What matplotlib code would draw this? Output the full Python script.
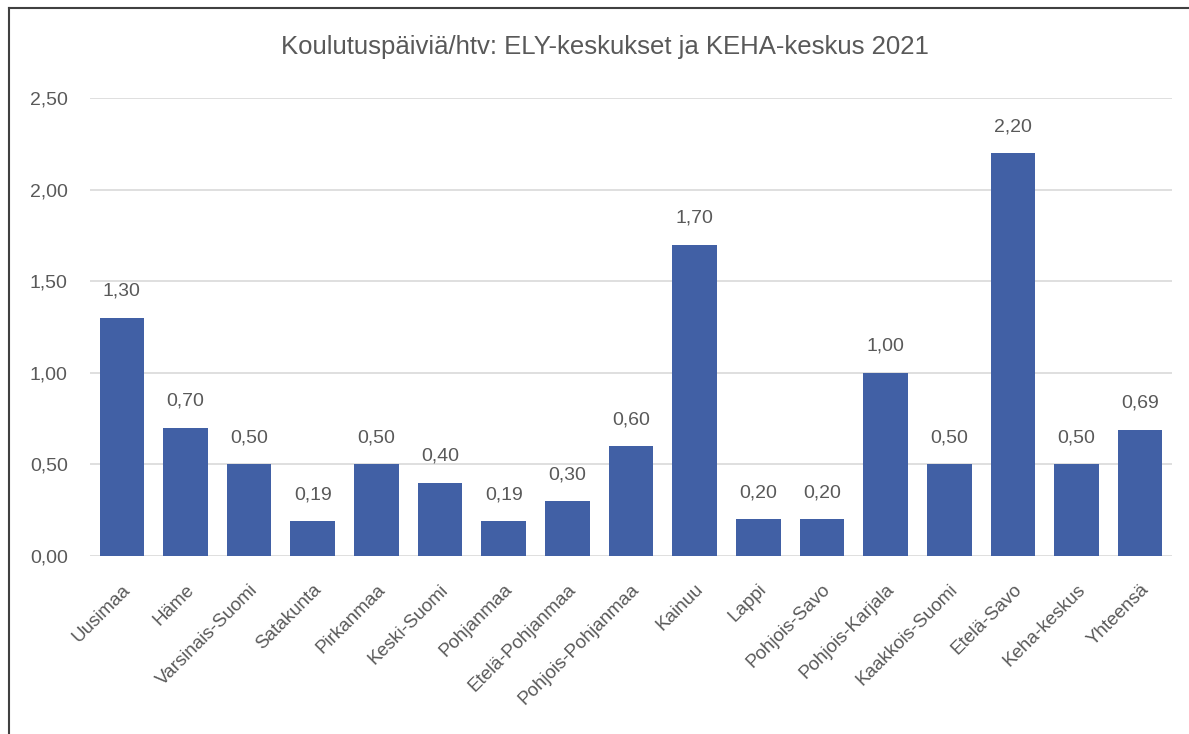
import matplotlib.pyplot as plt
from matplotlib.lines import Line2D

# data
categories = ["Uusimaa", "Häme", "Varsinais-Suomi", "Satakunta", "Pirkanmaa",
              "Keski-Suomi", "Pohjanmaa", "Etelä-Pohjanmaa", "Pohjois-Pohjanmaa",
              "Kainuu", "Lappi", "Pohjois-Savo", "Pohjois-Karjala", "Kaakkois-Suomi",
              "Etelä-Savo", "Keha-keskus", "Yhteensä"]
values = [1.30, 0.70, 0.50, 0.19, 0.50, 0.40, 0.19, 0.30, 0.60,
          1.70, 0.20, 0.20, 1.00, 0.50, 2.20, 0.50, 0.69]
yticks = [0.0, 0.5, 1.0, 1.5, 2.0, 2.5]

title = "Koulutuspäiviä/htv: ELY-keskukset ja KEHA-keskus 2021"
bar_color = "#4160a5"
txt_color = "#595959"

plt.rcParams['font.family'] = ['Liberation Sans', 'DejaVu Sans']

fig = plt.figure(figsize=(11.89, 7.34), dpi=100)
ax = fig.add_axes([90 / 1189, 1 - 556 / 734, 1082 / 1189, 458 / 734])

x = range(len(categories))
bars = ax.bar(x, values, width=0.7, color=bar_color, zorder=3)

# value labels above bars
for b, v in zip(bars, values):
    ax.annotate(f"{v:.2f}".replace(".", ","), (b.get_x() + b.get_width() / 2, v),
                xytext=(0, 19), textcoords="offset points",
                ha="center", va="center", fontsize=14, color=txt_color)

ax.set_xlim(-0.5, len(categories) - 0.5)
ax.set_ylim(0, 2.5)
ax.set_yticks(yticks)
ax.set_yticklabels([f"{t:.2f}".replace(".", ",") for t in yticks])
ax.set_xticks(list(x))
ax.set_xticklabels(categories, rotation=45, ha="right", rotation_mode="anchor")

ax.tick_params(axis="both", length=0, colors=txt_color)
ax.tick_params(axis="y", pad=16, labelsize=14)
ax.tick_params(axis="x", pad=18, labelsize=13.5)
ax.yaxis.grid(True, color="#d9d9d9", linewidth=1.2, zorder=0)
for s in ax.spines.values():
    s.set_visible(False)

fig.text(605 / 1189, 1 - 47 / 734, title, ha="center", va="center",
         fontsize=18.5, color=txt_color)

# outer frame (top and left edges visible)
fig.add_artist(Line2D([9 / 1189, 1], [1 - 8 / 734, 1 - 8 / 734],
                      transform=fig.transFigure, color="#404040", linewidth=1.5))
fig.add_artist(Line2D([9 / 1189, 9 / 1189], [0, 1 - 8 / 734],
                      transform=fig.transFigure, color="#404040", linewidth=1.5))

fig.savefig("out.png", dpi=100)
